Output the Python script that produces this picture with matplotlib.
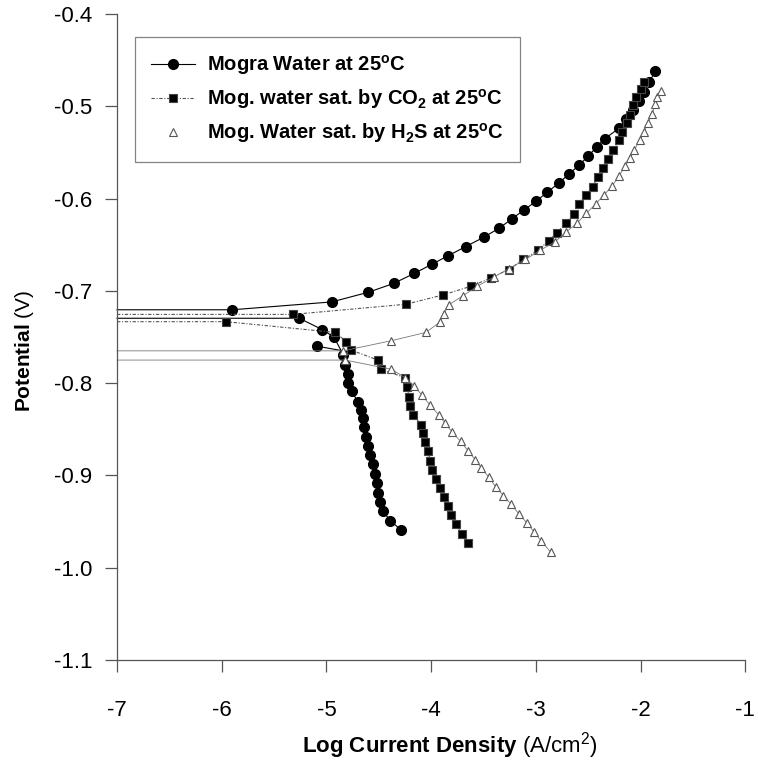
import matplotlib
matplotlib.use("Agg")
import matplotlib.pyplot as plt
from matplotlib.lines import Line2D

plt.rcParams['font.family'] = ['Liberation Sans', 'DejaVu Sans']
plt.rcParams['mathtext.fontset'] = 'custom'
plt.rcParams['mathtext.rm'] = 'Liberation Sans'
plt.rcParams['mathtext.bf'] = 'Liberation Sans:bold'
plt.rcParams['mathtext.it'] = 'Liberation Sans:italic'

# ---- data (log current density, potential V) ----
# Mogra water at 25C
mogra_an_x = [-5.90, -4.95, -4.60, -4.36, -4.16, -3.99, -3.84, -3.67, -3.50, -3.35, -3.23, -3.11,
              -3.00, -2.89, -2.78, -2.68, -2.59, -2.50, -2.42, -2.34, -2.21, -2.14, -2.07, -2.02,
              -1.97, -1.92, -1.86]
mogra_an_y = [-0.7205, -0.712, -0.7015, -0.692, -0.681, -0.671, -0.662, -0.652, -0.642, -0.632,
              -0.622, -0.612, -0.603, -0.593, -0.583, -0.573, -0.564, -0.554, -0.544, -0.535,
              -0.524, -0.514, -0.504, -0.494, -0.484, -0.474, -0.462]
mogra_ca_x = [-5.26, -5.04, -4.93, -4.84, -4.82, -4.79, -4.79, -4.76, -4.70, -4.67, -4.65, -4.64,
              -4.62, -4.60, -4.58, -4.56, -4.54, -4.52, -4.51, -4.49, -4.46, -4.39, -4.29]
mogra_ca_y = [-0.7297, -0.742, -0.750, -0.769, -0.780, -0.790, -0.800, -0.809, -0.820, -0.829,
              -0.838, -0.847, -0.858, -0.868, -0.878, -0.888, -0.898, -0.908, -0.919, -0.929,
              -0.939, -0.949, -0.959]
mogra_extra_x = [-5.09, -4.84]
mogra_extra_y = [-0.760, -0.765]

# Mogra water saturated by CO2
co2_an_x = [-5.32, -4.24, -3.89, -3.62, -3.43, -3.26, -3.12, -2.98, -2.88, -2.80, -2.71, -2.64,
            -2.59, -2.52, -2.46, -2.41, -2.36, -2.31, -2.26, -2.21, -2.18, -2.13, -2.10, -2.07,
            -2.04, -2.00, -1.97]
co2_an_y = [-0.7255, -0.7145, -0.7045, -0.695, -0.686, -0.677, -0.666, -0.656, -0.646, -0.637,
            -0.626, -0.617, -0.606, -0.596, -0.587, -0.577, -0.567, -0.557, -0.547, -0.537,
            -0.528, -0.518, -0.509, -0.499, -0.490, -0.481, -0.474]
co2_ca_x = [-5.96, -4.92, -4.81, -4.77, -4.51, -4.48, -4.25, -4.23, -4.21, -4.20, -4.17, -4.10,
            -4.08, -4.06, -4.03, -4.01, -3.99, -3.95, -3.92, -3.88, -3.84, -3.81, -3.76, -3.71,
            -3.65]
co2_ca_y = [-0.7334, -0.745, -0.755, -0.764, -0.775, -0.785, -0.794, -0.804, -0.815, -0.825,
            -0.834, -0.845, -0.854, -0.864, -0.874, -0.884, -0.894, -0.904, -0.914, -0.923,
            -0.933, -0.943, -0.953, -0.963, -0.973]

# Mogra water saturated by H2S
h2s_an_x = [-4.84, -4.38, -4.05, -3.92, -3.88, -3.83, -3.70, -3.56, -3.40, -3.26, -3.10, -2.96,
            -2.82, -2.71, -2.61, -2.52, -2.43, -2.35, -2.27, -2.21, -2.15, -2.10, -2.06, -2.01,
            -1.97, -1.93, -1.89, -1.86, -1.84, -1.81]
h2s_an_y = [-0.765, -0.754, -0.745, -0.734, -0.725, -0.715, -0.7055, -0.695, -0.685, -0.676,
            -0.666, -0.656, -0.647, -0.636, -0.627, -0.616, -0.606, -0.596, -0.586, -0.576,
            -0.565, -0.556, -0.547, -0.537, -0.528, -0.518, -0.508, -0.498, -0.490, -0.483]
h2s_ca_x = [-4.82, -4.38, -4.25, -4.16, -4.09, -4.01, -3.93, -3.87, -3.80, -3.72, -3.65, -3.58,
            -3.52, -3.45, -3.38, -3.31, -3.24, -3.16, -3.09, -3.02, -2.95, -2.86]
h2s_ca_y = [-0.775, -0.785, -0.794, -0.803, -0.813, -0.824, -0.834, -0.843, -0.853, -0.863,
            -0.873, -0.883, -0.892, -0.902, -0.913, -0.922, -0.931, -0.942, -0.951, -0.961,
            -0.971, -0.983]

labels = ["Mogra Water at 25$^\\mathbf{o}$C",
          "Mog. water sat. by CO$_\\mathbf{2}$ at 25$^\\mathbf{o}$C",
          "Mog. Water sat. by H$_\\mathbf{2}$S at 25$^\\mathbf{o}$C"]
x_ticks = [-7, -6, -5, -4, -3, -2, -1]
y_ticks = [-0.4, -0.5, -0.6, -0.7, -0.8, -0.9, -1.0, -1.1]
XMIN, XMAX = -7, -1
YMIN, YMAX = -1.1, -0.4

fig = plt.figure(figsize=(7.58, 7.68), dpi=100)
ax = fig.add_axes([0.1544, 0.1406, 0.829, 0.8412])


def branch(xs, ys, hline=True):
    if hline:
        return [XMIN] + list(xs), [ys[0]] + list(ys), slice(1, None)
    return list(xs), list(ys), slice(0, 1)


styles = {
    'mogra': dict(color='black', lw=0.8, ls='-', marker='o', ms=7, mfc='black', mec='black'),
    'co2': dict(color='#555555', lw=0.8, ls=(0, (3, 1.5, 1, 1.5)), marker='s', ms=6.3,
                mfc='black', mec='#444444', mew=0.8),
    'h2s': dict(color='#777777', lw=0.6, ls='-', marker='^', ms=6, mfc='white', mec='#555555',
                mew=0.8),
}

handles = []
for key, brs in [('mogra', [(mogra_an_x, mogra_an_y, True), (mogra_ca_x, mogra_ca_y, True),
                            (mogra_extra_x, mogra_extra_y, False)]),
                 ('co2', [(co2_an_x, co2_an_y, True), (co2_ca_x, co2_ca_y, True)]),
                 ('h2s', [(h2s_an_x, h2s_an_y, True), (h2s_ca_x, h2s_ca_y, True)])]:
    st = dict(styles[key])
    for xs, ys, hl in brs:
        X, Y, me = branch(xs, ys, hl)
        ax.plot(X, Y, markevery=me, clip_on=False, **st)
    hst = dict(st)
    if key == 'h2s':
        hst['ls'] = 'none'
    handles.append(Line2D([], [], **hst))

ax.set_xlim(XMIN, XMAX)
ax.set_ylim(YMIN, YMAX)
ax.set_xticks(x_ticks)
ax.set_xticklabels([f"{t:d}" for t in x_ticks])
ax.set_yticks(y_ticks)
ax.set_yticklabels([f"{t:.1f}" for t in y_ticks])
for s in ['top', 'right']:
    ax.spines[s].set_visible(False)
for s in ['left', 'bottom']:
    ax.spines[s].set_color('#555555')
    ax.spines[s].set_linewidth(0.9)
ax.tick_params(axis='both', direction='out', length=8.6, width=0.9, color='#555555',
               labelsize=16)
ax.tick_params(axis='y', pad=9)
ax.tick_params(axis='x', pad=20)

ax.set_ylabel("$\\mathbf{Potential}$ (V)", fontsize=15)
ax.set_xlabel("$\\mathbf{Log\\ Current\\ Density}$ (A/cm$^\\mathrm{2}$)", fontsize=16)
ax.xaxis.set_label_coords(0.53, -0.132, transform=ax.transAxes)
ax.xaxis.label.set_va('center')
ax.yaxis.set_label_coords(-0.148, 0.478, transform=ax.transAxes)
ax.yaxis.label.set_va('center')

leg = ax.legend(handles, labels, loc='upper left', bbox_to_anchor=(0.028, 0.964),
                prop=dict(weight='bold', size=14.5), frameon=True, fancybox=False,
                edgecolor='#666666', handlelength=2.2, labelspacing=0.5, borderpad=0.8,
                handletextpad=0.6, borderaxespad=0)
leg.get_frame().set_linewidth(0.9)

fig.savefig("out.png", dpi=100, facecolor='white')
